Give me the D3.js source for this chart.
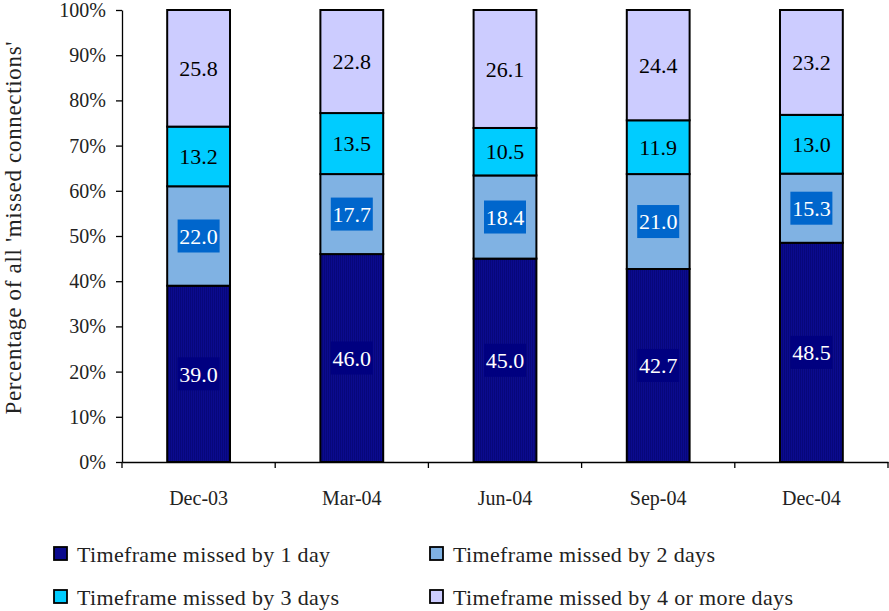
<!DOCTYPE html>
<html><head><meta charset="utf-8">
<script src="https://cdn.jsdelivr.net/npm/d3@7"></script>
<style>
body{margin:0;background:#fff;}
text{font-family:"Liberation Serif","DejaVu Serif",serif;}
</style></head>
<body>
<svg id="c" width="889" height="611"></svg>
<script>
const categories = ["Dec-03","Mar-04","Jun-04","Sep-04","Dec-04"];
const series = ["Timeframe missed by 1 day","Timeframe missed by 2 days","Timeframe missed by 3 days","Timeframe missed by 4 or more days"];
const missed1 = [39.0, 46.0, 45.0, 42.7, 48.5];
const missed2 = [22.0, 17.7, 18.4, 21.0, 15.3];
const missed3 = [13.2, 13.5, 10.5, 11.9, 13.0];
const missed4 = [25.8, 22.8, 26.1, 24.4, 23.2];
const yTicks = [0,10,20,30,40,50,60,70,80,90,100];
const colors = ["url(#stripe)","#80b2e3","#00ccff","#ccccff"];
const labelBg = ["#000080","#0066cc",null,null];
const labelFg = ["#ffffff","#ffffff","#000000","#000000"];

const svg = d3.select("#c");
const defs = svg.append("defs");
const pat = defs.append("pattern").attr("id","stripe").attr("patternUnits","userSpaceOnUse").attr("width",2).attr("height",4);
pat.append("rect").attr("width",2).attr("height",4).attr("fill","#0b0b8e");
pat.append("rect").attr("width",1).attr("height",4).attr("fill","#07077a");

const m = {left:122, right:888, top:10, bottom:462};
const x = d3.scaleBand().domain(categories).range([m.left, m.right]).paddingInner(0.59).paddingOuter(0.295);
const y = d3.scaleLinear().domain([0,100]).range([m.bottom, m.top]);

const all = [missed1, missed2, missed3, missed4];
const rows = categories.map((c,i)=>{ const o={cat:c}; all.forEach((s,k)=>o["s"+k]=s[i]); return o;});
const stack = d3.stack().keys(["s0","s1","s2","s3"])(rows);

// y axis
const ya = svg.append("g").attr("transform",`translate(${m.left},0)`)
  .call(d3.axisLeft(y).tickValues(yTicks).tickFormat(d=>d+"%").tickSize(6).tickSizeOuter(0));
ya.attr("font-family",null);
ya.select(".domain").attr("stroke","#000").attr("stroke-width",1.3);
ya.selectAll(".tick line").attr("stroke","#000").attr("stroke-width",1.3);
ya.selectAll(".tick text").attr("font-size",20).attr("fill","#222").attr("x",-16);

// bars
stack.forEach((layer,k)=>{
  const g = svg.append("g");
  g.selectAll("rect").data(layer).join("rect")
    .attr("x",d=>x(d.data.cat)).attr("width",x.bandwidth())
    .attr("y",d=>y(d[1])).attr("height",d=>y(d[0])-y(d[1]))
    .attr("fill",colors[k]).attr("stroke","#000").attr("stroke-width",2);
});
// labels
stack.forEach((layer,k)=>{
  const g = svg.append("g");
  layer.forEach(d=>{
    const cx = x(d.data.cat)+x.bandwidth()/2, cy=(y(d[0])+y(d[1]))/2;
    if(labelBg[k]) g.append("rect").attr("x",cx-21).attr("y",cy-16.5).attr("width",42).attr("height",33).attr("fill",labelBg[k]);
    g.append("text").attr("x",cx).attr("y",cy).attr("dy","0.35em").attr("text-anchor","middle")
      .attr("font-size",22).attr("fill",labelFg[k]).text((d[1]-d[0]).toFixed(1));
  });
});

// x axis
const xa = svg.append("g").attr("transform",`translate(0,${m.bottom})`)
  .call(d3.axisBottom(x).tickSize(0).tickSizeOuter(0));
xa.attr("font-family",null);
xa.select(".domain").attr("stroke","#000").attr("stroke-width",1.3);
xa.selectAll(".tick text").attr("font-size",20).attr("fill","#222").attr("dy",0).attr("y",43);
const step = x.step();
xa.selectAll(".sep").data(d3.range(categories.length+1)).join("line")
  .attr("x1",i=>m.left+i*step).attr("x2",i=>m.left+i*step).attr("y1",0).attr("y2",6)
  .attr("stroke","#000").attr("stroke-width",1.3);

// y title
svg.append("text").attr("transform",`translate(21,228) rotate(-90)`).attr("text-anchor","middle")
  .attr("font-size",23).attr("fill","#222").attr("textLength",373).attr("lengthAdjust","spacing")
  .text("Percentage of all 'missed connections'");

// legend
const legPos = [[54,554],[430,554],[54,597],[430,597]];
const legLen = [253,262,262,340];
const sw = ["#0b0b8e","#80b2e3","#00ccff","#ccccff"];
series.forEach((s,k)=>{
  const [lx,ly]=legPos[k];
  svg.append("rect").attr("x",lx).attr("y",ly-7).attr("width",13).attr("height",13).attr("fill",sw[k]).attr("stroke","#000").attr("stroke-width",1.8);
  svg.append("text").attr("x",lx+23).attr("y",ly).attr("dy","0.35em").attr("font-size",22).attr("fill","#222")
    .attr("textLength",legLen[k]).attr("lengthAdjust","spacing").text(s);
});
</script>
</body></html>
